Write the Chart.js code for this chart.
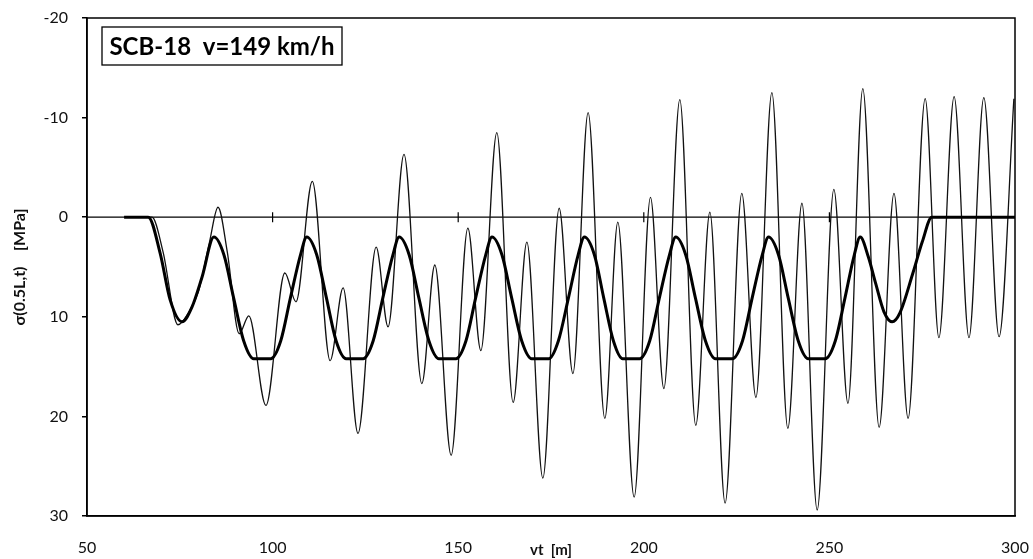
<!DOCTYPE html>
<html>
<head>
<meta charset="utf-8">
<script src="https://cdn.jsdelivr.net/npm/chart.js@4.4.1/dist/chart.umd.min.js"></script>
<style>
  html, body { margin: 0; padding: 0; background: #fff; }
  #wrap { width: 1033px; height: 559px; position: relative; }
</style>
</head>
<body>
<div id="wrap"><canvas id="chart"></canvas></div>
<script>
// measured stress (thin line)
const measuredX = [60, 67.5, 70.5, 74.5, 77, 80, 83, 85.3, 87.8, 91, 93.6, 98.2, 103.3, 106.3, 110.7,
    115.5, 119, 123, 127.9, 131.1, 135.4, 140.2, 143.7, 148.1, 152.6, 156.1, 160.4, 164.8, 168.5,
    172.8, 177.2, 180.9, 185, 189.5, 193, 197.4, 201.8, 205.4, 209.7, 214, 217.8, 221.9, 226.4,
    230.2, 234.5, 238.8, 242.6, 246.7, 251.2, 255, 259, 263.4, 267.4, 271.2, 275.8, 279.5, 283.6,
    287.6, 291.6, 295.7, 299.7];
const measuredSigma = [0, 0, 3.5, 10.8, 9.8, 7.5, 2.5, -1.0, 3.5, 11.7, 9.9, 18.9, 5.6, 8.5, -3.6,
    14.4, 7.1, 21.7, 3.0, 11.0, -6.3, 16.7, 4.8, 23.9, 1.1, 13.4, -8.5, 18.6, 2.5,
    26.2, -0.9, 15.7, -10.5, 20.2, 0.5, 28.1, -2.0, 17.2, -11.8, 20.9, -0.5, 28.7, -2.4,
    18.1, -12.5, 21.2, -1.4, 29.4, -2.8, 18.7, -12.9, 21.1, -2.4, 20.2, -11.9, 12.1, -12.1,
    12.1, -12.0, 12.0, -11.9];

// calculated stress (thick line)
const theoryX = [60, 66.5, 69.7, 72.4, 75.6, 78.3, 81, 84.2,
    86.9, 89.5, 92.2, 94.9, 99.5, 102.2, 104.8, 107.5, 109.2,
    111.9, 114.5, 117.1, 119.8, 124.4, 127.1, 129.7, 132.4, 134.1,
    136.8, 139.4, 142.1, 144.8, 149.4, 152.1, 154.7, 157.4, 159.1,
    161.8, 164.4, 167.1, 169.8, 174.4, 177, 179.7, 182.3, 184,
    186.7, 189.2, 191.8, 194.3, 198.9, 201.6, 204.2, 206.9, 208.6,
    211.3, 213.9, 216.6, 219.3, 223.9, 226.6, 229.2, 231.9, 233.6,
    236.3, 238.9, 241.6, 244.3, 248.9, 251.6, 254.2, 256.7, 258.3,
    260.5, 262.5, 264.7, 266.9, 269, 272.5, 275, 277.6, 300];
const theorySigma = [0, 0, 3.6, 8.3, 10.5, 9.0, 6.0, 2.0,
    3.8, 8.1, 12.4, 14.2, 14.2, 12.4, 8.1, 3.8, 2.0,
    3.8, 8.1, 12.4, 14.2, 14.2, 12.4, 8.1, 3.8, 2.0,
    3.8, 8.1, 12.4, 14.2, 14.2, 12.4, 8.1, 3.8, 2.0,
    3.8, 8.1, 12.4, 14.2, 14.2, 12.4, 8.1, 3.8, 2.0,
    3.8, 8.1, 12.4, 14.2, 14.2, 12.4, 8.1, 3.8, 2.0,
    3.8, 8.1, 12.4, 14.2, 14.2, 12.4, 8.1, 3.8, 2.0,
    3.8, 8.1, 12.4, 14.2, 14.2, 12.4, 8.1, 3.8, 2.0,
    4.0, 6.7, 9.5, 10.5, 9.6, 5.6, 2.5, 0, 0];

// small marks on the zero line
const zeroTicks = [100, 150, 200, 250];
const xRange = [50, 300];
const yTicks = [-20, -10, 0, 10, 20, 30];

const titleText = 'SCB-18  v=149 km/h';
const fontName = 'Lato';

function pairs(xs, ys){
    return xs.map((x, i) => ({x: x, y: ys[i]}));
}

const frameAndLabel = {
    id: 'frameAndLabel',
    afterDraw(chart){
        const ctx = chart.ctx;
        const a = chart.chartArea;
        ctx.save();
        ctx.strokeStyle = '#000';
        ctx.lineWidth = 1.5;
        ctx.strokeRect(a.left, a.top, a.right - a.left, a.bottom - a.top);

        // label box in the upper left corner
        ctx.font = 'bold 24px ' + fontName;
        ctx.textBaseline = 'middle';
        ctx.textAlign = 'center';
        let bx = a.left + 15, by = a.top + 9, bw = 240, bh = 38;
        ctx.fillStyle = '#fff';
        ctx.fillRect(bx, by, bw, bh);
        ctx.lineWidth = 1.3;
        ctx.strokeRect(bx, by, bw, bh);
        ctx.fillStyle = '#000';
        ctx.fillText(titleText, bx + bw / 2, by + bh / 2 + 1);
        ctx.restore();
    }
};

let ctx = document.getElementById('chart').getContext('2d');
new Chart(ctx, {
    type: 'line',
    data: {
        datasets: [
            {
                label: 'zero',
                data: pairs(xRange, [0, 0]),
                borderColor: '#000',
                borderWidth: 1.2,
                pointRadius: 0,
                order: 3
            },
            {
                label: 'ticks',
                data: pairs(zeroTicks, zeroTicks.map(() => 0)),
                showLine: false,
                pointStyle: 'line',
                rotation: 90,
                pointRadius: 5,
                borderColor: '#000',
                borderWidth: 1.2,
                order: 3
            },
            {
                label: 'measured',
                data: pairs(measuredX, measuredSigma),
                borderColor: '#111',
                borderWidth: 1.3,
                pointRadius: 0,
                cubicInterpolationMode: 'monotone',
                order: 2
            },
            {
                label: 'theory',
                data: pairs(theoryX, theorySigma),
                borderColor: '#000',
                borderWidth: 3,
                pointRadius: 0,
                cubicInterpolationMode: 'monotone',
                order: 1
            }
        ]
    },
    options: {
        responsive: true,
        maintainAspectRatio: false,
        animation: false,
        layout: {padding: {top: 18, right: 18, left: 0, bottom: 0}},
        plugins: {
            legend: {display: false},
            tooltip: {enabled: false}
        },
        scales: {
            x: {
                type: 'linear',
                min: xRange[0],
                max: xRange[1],
                afterFit: function(scale){
                    scale.height = 43;
                    scale.paddingLeft = 0;
                    scale.paddingRight = 0;
                },
                ticks: {
                    stepSize: 50,
                    padding: 22,
                    color: '#111',
                    font: {family: fontName, size: 16}
                },
                grid: {display: false, drawTicks: false},
                border: {display: true, color: '#000', width: 1.5},
                title: {
                    display: true,
                    text: 'vt  [m]',
                    color: '#111',
                    font: {family: fontName, size: 15, weight: 'bold'},
                    padding: {top: 0, bottom: 0}
                }
            },
            y: {
                reverse: true,
                min: yTicks[0],
                max: yTicks[yTicks.length - 1],
                afterFit: function(scale){
                    scale.width = 87;
                    scale.paddingTop = 0;
                    scale.paddingBottom = 0;
                },
                afterBuildTicks: function(scale){ scale.ticks = yTicks.map(v => ({value: v})); },
                ticks: {
                    padding: 14,
                    color: '#111',
                    font: {family: fontName, size: 16}
                },
                grid: {drawOnChartArea: false, tickLength: 5, color: '#000', lineWidth: 1.5},
                border: {display: true, color: '#000', width: 1.5},
                title: {
                    display: true,
                    text: 'σ(0.5L,t)    [MPa]',
                    color: '#111',
                    font: {family: fontName, size: 16, weight: 'bold'},
                    padding: {top: 10, bottom: 0}
                }
            }
        }
    },
    plugins: [frameAndLabel]
});
</script>
</body>
</html>
